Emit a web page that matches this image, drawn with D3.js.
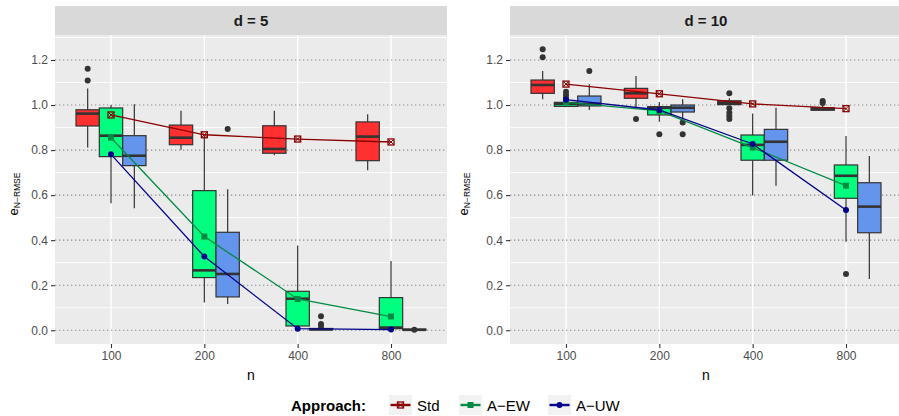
<!DOCTYPE html>
<html lang="en">
  <head>
    <meta charset="UTF-8" />
    <title>e N-RMSE by n</title>
    <style>
      body { margin: 0; background: #fff; font-family: "Liberation Sans", Arial, sans-serif; }
      .tick text { fill: #4d4d4d; font-size: 12px; font-family: "Liberation Sans", Arial, sans-serif; }
      .tick line { stroke: #333; }
      .domain { display: none; }
    </style>
  </head>
  <body>
    <svg id="chart" width="899" height="416"></svg>
  </body>
  <script src="https://cdn.jsdelivr.net/npm/d3@7"></script>
  <script>
    const nValues = [100, 200, 400, 800];
    const approaches = ["Std", "A\u2212EW", "A\u2212UW"];
    const panels = ["d = 5", "d = 10"];
    const yTicks = [0, 0.2, 0.4, 0.6, 0.8, 1.0, 1.2];

    // box stats per n: [lower whisker, q1, median, q3, upper whisker]
    const boxStd5 = [[0.811, 0.907, 0.962, 0.979, 1.074], [0.802, 0.824, 0.855, 0.911, 0.975], [0.777, 0.786, 0.805, 0.908, 0.975], [0.710, 0.753, 0.860, 0.925, 0.959]];
    const boxEW5 = [[0.564, 0.771, 0.864, 0.987, 1.0], [0.123, 0.234, 0.266, 0.620, 0.865], [0.012, 0.019, 0.140, 0.173, 0.376], [0.0, 0.007, 0.012, 0.145, 0.308]];
    const boxUW5 = [[0.542, 0.731, 0.775, 0.864, 1.003], [0.117, 0.148, 0.250, 0.435, 0.626], [0.0, 0.002, 0.004, 0.008, 0.012], [0.0, 0.001, 0.002, 0.005, 0.008]];
    const boxStd10 = [[1.026, 1.052, 1.089, 1.111, 1.151], [0.985, 1.030, 1.052, 1.074, 1.129], [1.0, 1.002, 1.010, 1.019, 1.03], [0.974, 0.977, 0.982, 0.988, 0.998]];
    const boxEW10 = [[0.99, 0.994, 1.005, 1.012, 1.02], [0.926, 0.956, 0.988, 0.993, 1.013], [0.598, 0.755, 0.823, 0.867, 0.963], [0.393, 0.586, 0.686, 0.734, 0.863]];
    const boxUW10 = [[0.978, 0.996, 1.005, 1.040, 1.092], [0.94, 0.969, 0.988, 1.0, 1.026], [0.642, 0.755, 0.837, 0.892, 0.988], [0.228, 0.433, 0.549, 0.655, 0.774]];

    // outliers: [n, value]
    const outStd5 = [[100, 1.161], [100, 1.109]];
    const outEW5 = [];
    const outUW5 = [[200, 0.894], [400, 0.062], [400, 0.028], [400, 0.016], [800, 0.002]];
    const outStd10 = [[100, 1.248], [100, 1.212], [200, 0.938], [400, 1.052], [400, 0.986], [400, 0.966], [400, 0.951], [400, 0.938], [800, 1.018], [800, 1.009]];
    const outEW10 = [[100, 1.059], [100, 1.045], [100, 1.031], [200, 0.870], [800, 0.25]];
    const outUW10 = [[100, 1.151], [200, 0.922], [200, 0.870]];

    // means per n
    const meanStd5 = [0.956, 0.868, 0.849, 0.836];
    const meanEW5 = [0.855, 0.416, 0.139, 0.061];
    const meanUW5 = [0.781, 0.327, 0.007, 0.003];
    const meanStd10 = [1.093, 1.050, 1.005, 0.984];
    const meanEW10 = [1.012, 0.974, 0.811, 0.642];
    const meanUW10 = [1.024, 0.978, 0.827, 0.534];

    const boxFill = ["#FF3030", "#00FF7F", "#6495ED"];
    const lineCol = ["#8B0000", "#008B45", "#00008B"];

    const panelData = [
      { boxes: [boxStd5, boxEW5, boxUW5], outs: [outStd5, outEW5, outUW5], means: [meanStd5, meanEW5, meanUW5] },
      { boxes: [boxStd10, boxEW10, boxUW10], outs: [outStd10, outEW10, outUW10], means: [meanStd10, meanEW10, meanUW10] },
    ];
    const panelLeft = [55, 510];
    const panelW = 392;
    const plotTop = 35, plotBottom = 344;

    const svg = d3.select("#chart");
    const y = d3.scaleLinear().domain([-0.061, 1.311]).range([plotBottom, plotTop]);
    const dodge = [-0.25, 0, 0.25];
    const pos = (n) => Math.log2(n / 100);

    function drawMarker(g, a, cx, cy) {
      if (a === 0) {
        const s = 6;
        g.append("rect").attr("x", cx - s / 2).attr("y", cy - s / 2).attr("width", s).attr("height", s)
          .attr("fill", "none").attr("stroke", lineCol[0]).attr("stroke-width", 1.3);
        g.append("path").attr("d", `M${cx - s / 2},${cy - s / 2}L${cx + s / 2},${cy + s / 2}M${cx + s / 2},${cy - s / 2}L${cx - s / 2},${cy + s / 2}`)
          .attr("stroke", lineCol[0]).attr("stroke-width", 1);
      } else if (a === 1) {
        g.append("rect").attr("x", cx - 3).attr("y", cy - 3).attr("width", 6).attr("height", 6).attr("fill", lineCol[1]);
      } else {
        g.append("circle").attr("cx", cx).attr("cy", cy).attr("r", 3).attr("fill", lineCol[2]);
      }
    }

    panelData.forEach((pd, p) => {
      const x = d3.scaleLinear().domain([-0.6, 3.6]).range([panelLeft[p], panelLeft[p] + panelW]);
      const bw = x(0.25) - x(0);
      const g = svg.append("g");

      // strip
      g.append("rect").attr("x", panelLeft[p]).attr("y", 6).attr("width", panelW).attr("height", plotTop - 6).attr("fill", "#d9d9d9");
      g.append("text").attr("x", panelLeft[p] + panelW / 2).attr("y", 26)
        .attr("text-anchor", "middle").attr("font-weight", "bold").attr("font-size", 15).attr("fill", "#1a1a1a")
        .text(panels[p]);

      // panel background + grid
      g.append("rect").attr("x", panelLeft[p]).attr("y", plotTop).attr("width", panelW).attr("height", plotBottom - plotTop).attr("fill", "#ebebeb");
      const minor = [0.1, 0.3, 0.5, 0.7, 0.9, 1.1, 1.3];
      g.selectAll(".minor").data(minor).join("line")
        .attr("x1", panelLeft[p]).attr("x2", panelLeft[p] + panelW)
        .attr("y1", (d) => y(d)).attr("y2", (d) => y(d))
        .attr("stroke", "#fff").attr("stroke-width", 0.9);
      g.selectAll(".vgrid").data(nValues).join("line")
        .attr("x1", (d) => x(pos(d))).attr("x2", (d) => x(pos(d)))
        .attr("y1", plotTop).attr("y2", plotBottom)
        .attr("stroke", "#fff").attr("stroke-width", 1.4);
      g.selectAll(".major").data(yTicks).join("line")
        .attr("x1", panelLeft[p]).attr("x2", panelLeft[p] + panelW)
        .attr("y1", (d) => y(d)).attr("y2", (d) => y(d))
        .attr("stroke", "#8a8a8a").attr("stroke-width", 1.1).attr("stroke-dasharray", "1.3,2.7");

      // boxes
      nValues.forEach((n, i) => {
        pd.boxes.forEach((series, a) => {
          const [lo, q1, med, q3, hi] = series[i];
          const cx = x(pos(n) + dodge[a]);
          const bg = g.append("g");
          bg.append("line").attr("x1", cx).attr("x2", cx).attr("y1", y(hi)).attr("y2", y(q3)).attr("stroke", "#333").attr("stroke-width", 1.2);
          bg.append("line").attr("x1", cx).attr("x2", cx).attr("y1", y(q1)).attr("y2", y(lo)).attr("stroke", "#333").attr("stroke-width", 1.2);
          bg.append("rect").attr("x", cx - bw / 2).attr("width", bw)
            .attr("y", y(q3)).attr("height", Math.max(y(q1) - y(q3), 0.5))
            .attr("fill", boxFill[a]).attr("stroke", "#333").attr("stroke-width", 1.2);
          bg.append("line").attr("x1", cx - bw / 2).attr("x2", cx + bw / 2).attr("y1", y(med)).attr("y2", y(med))
            .attr("stroke", "#333").attr("stroke-width", 2.6);
        });
      });

      // outliers
      pd.outs.forEach((list, a) => {
        g.selectAll(null).data(list).join("circle")
          .attr("cx", (d) => x(pos(d[0]) + dodge[a])).attr("cy", (d) => y(d[1]))
          .attr("r", 3).attr("fill", "#333");
      });

      // mean lines
      const line = d3.line().x((d, i) => x(pos(nValues[i]))).y((d) => y(d));
      pd.means.forEach((m, a) => {
        g.append("path").attr("d", line(m)).attr("fill", "none").attr("stroke", lineCol[a]).attr("stroke-width", 1.3);
      });
      pd.means.forEach((m, a) => {
        m.forEach((v, i) => drawMarker(g, a, x(pos(nValues[i])), y(v)));
      });

      // axes
      const ya = g.append("g").attr("transform", `translate(${panelLeft[p]},0)`)
        .call(d3.axisLeft(y).tickValues(yTicks).tickFormat(d3.format(".1f")).tickSize(4).tickPadding(3));
      ya.selectAll(".tick line").attr("stroke", "#333").attr("stroke-width", 1.1);
      const xa = g.append("g").attr("transform", `translate(0,${plotBottom})`)
        .call(d3.axisBottom(x).tickValues(nValues.map(pos)).tickFormat((d, i) => nValues[i]).tickSize(4).tickPadding(3));
      xa.selectAll(".tick line").attr("stroke", "#333").attr("stroke-width", 1.1);

      // axis titles
      g.append("text").attr("x", panelLeft[p] + panelW / 2).attr("y", 380)
        .attr("text-anchor", "middle").attr("font-size", 14).attr("fill", "#000").text("n");
      const tx = p === 0 ? 17.5 : 467.5;
      const yt = g.append("text").attr("transform", `translate(${tx},194) rotate(-90)`)
        .attr("text-anchor", "middle").attr("font-size", 13).attr("fill", "#000");
      yt.append("tspan").text("e");
      yt.append("tspan").attr("font-size", 8.5).attr("dy", 2).text("N\u2212RMSE");
    });

    // legend
    const leg = svg.append("g");
    leg.append("text").attr("x", 291).attr("y", 411).attr("font-weight", "bold").attr("font-size", 15).attr("fill", "#000").text("Approach:");
    const keyX = [389, 459, 548];
    approaches.forEach((name, a) => {
      const kx = keyX[a];
      leg.append("rect").attr("x", kx).attr("y", 395).attr("width", 23).attr("height", 20).attr("fill", "#f2f2f2");
      leg.append("line").attr("x1", kx + 1.5).attr("x2", kx + 21.5).attr("y1", 405).attr("y2", 405).attr("stroke", lineCol[a]).attr("stroke-width", 2.4);
      drawMarker(leg, a, kx + 11.5, 405);
      leg.append("text").attr("x", kx + 28).attr("y", 411).attr("font-size", 15).attr("fill", "#000").text(name);
    });
  </script>
</html>
